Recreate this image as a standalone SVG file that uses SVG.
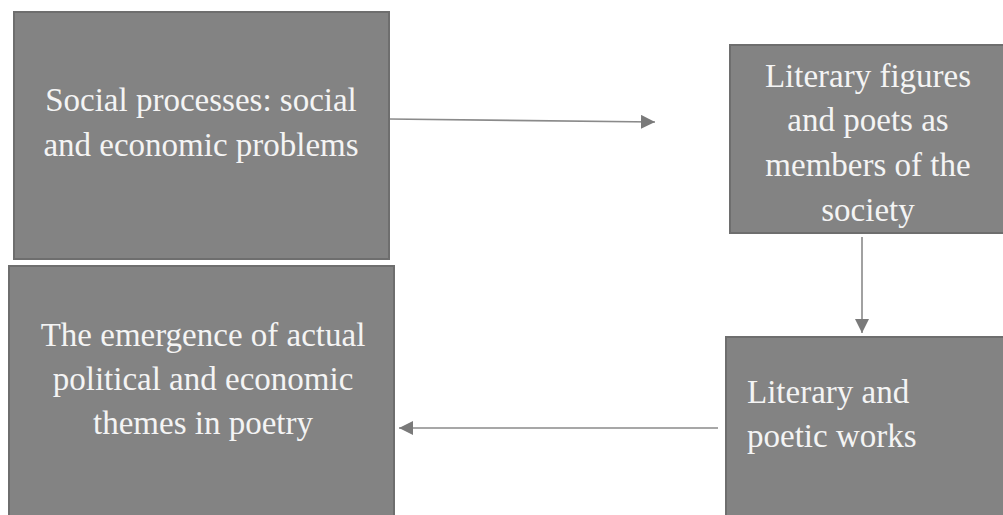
<svg xmlns="http://www.w3.org/2000/svg" width="1003" height="515" viewBox="0 0 1003 515">
<style>
.box{fill:#838383;stroke:#6e6e6e;stroke-width:2}
.t{font-family:"Liberation Serif","Times New Roman",serif;font-size:33px;fill:#f4f4f4}
.c{text-anchor:middle}
.conn{stroke:#8a8a8a;stroke-width:1.6;fill:none}
</style>
<defs>
<marker id="arr" viewBox="0 0 14 14" refX="14" refY="7" markerWidth="14" markerHeight="14" orient="auto" markerUnits="userSpaceOnUse">
<path d="M0,0 L14,7 L0,14 z" fill="#7a7a7a"/>
</marker>
<clipPath id="clip2"><rect x="730" y="45" width="273" height="188"/></clipPath>
</defs>
<g id="connectors">
<line class="conn" x1="389" y1="119" x2="655" y2="122" marker-end="url(#arr)"/>
<line class="conn" x1="862" y1="237" x2="862" y2="333" marker-end="url(#arr)"/>
<line class="conn" x1="718" y1="428" x2="399" y2="428" marker-end="url(#arr)"/>
</g>
<g id="node1">
<rect class="box" x="14" y="12" width="375" height="247"/>
<text class="t c" x="201" y="111" font-size="34">Social processes: social</text>
<text class="t c" x="201" y="156" font-size="34">and economic problems</text>
</g>
<g id="node2">
<rect class="box" x="730" y="45" width="280" height="188"/>
<g clip-path="url(#clip2)">
<text class="t c" x="868" y="87">Literary figures</text>
<text class="t c" x="868" y="131">and poets as</text>
<text class="t c" x="868" y="176">members of the</text>
<text class="t c" x="868" y="221">society</text>
</g>
</g>
<g id="node3">
<rect class="box" x="9" y="266" width="385" height="260"/>
<text class="t c" x="203" y="346">The emergence of actual</text>
<text class="t c" x="203" y="390">political and economic</text>
<text class="t c" x="203" y="434">themes in poetry</text>
</g>
<g id="node4">
<rect class="box" x="726" y="337" width="290" height="190"/>
<text class="t" x="747" y="403">Literary and</text>
<text class="t" x="747" y="447">poetic works</text>
</g>
</svg>
